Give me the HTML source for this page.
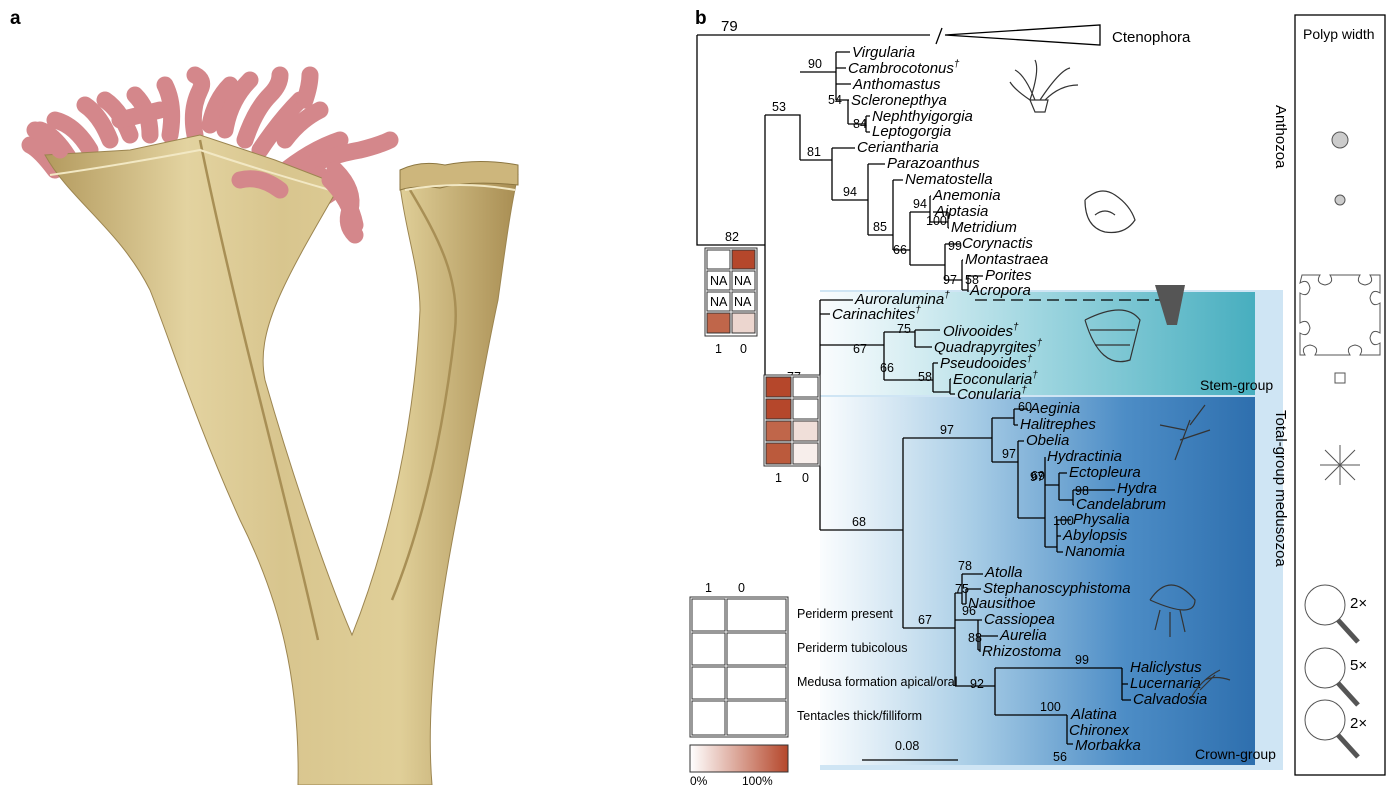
<!DOCTYPE html>
<html><head><meta charset="utf-8">
<style>
body{margin:0;background:#fff;}
svg{display:block;}
text{font-family:"Liberation Sans",sans-serif;}
.t{font-style:italic;font-size:15px;}
.n{font-size:12.5px;}
.l{stroke:#000;stroke-width:1.3;fill:none;}
</style></head><body>
<svg width="1395" height="785" viewBox="0 0 1395 785" xmlns="http://www.w3.org/2000/svg">
<defs>
<linearGradient id="tan" x1="0" x2="1" y1="0" y2="0">
<stop offset="0" stop-color="#b39a5e"/><stop offset=".3" stop-color="#e3d3a0"/><stop offset=".5" stop-color="#d8c58e"/><stop offset=".75" stop-color="#e0cf98"/><stop offset="1" stop-color="#a88d52"/></linearGradient>
<linearGradient id="stem" x1="0" x2="1"><stop offset="0" stop-color="#fff" stop-opacity="0.9"/><stop offset=".5" stop-color="#9fd6e0"/><stop offset="1" stop-color="#47aebf"/></linearGradient>
<linearGradient id="crown" x1="0" x2="1"><stop offset="0" stop-color="#fff" stop-opacity="0.9"/><stop offset=".35" stop-color="#a8cde6"/><stop offset=".7" stop-color="#4d8dc6"/><stop offset="1" stop-color="#2e6fae"/></linearGradient>
<linearGradient id="bar" x1="0" x2="1"><stop offset="0" stop-color="#fff"/><stop offset="1" stop-color="#b5472b"/></linearGradient>
</defs>
<text x="10" y="24" font-weight="bold" font-size="19">a</text>
<text x="695" y="24" font-weight="bold" font-size="19">b</text>

<!-- illustration -->
<g>
<g stroke="#d4878b" stroke-width="17" stroke-linecap="round" fill="none">
<path d="M55,170 Q40,150 30,145"/><path d="M70,160 Q55,135 40,130"/><path d="M90,150 Q75,125 55,120"/>
<path d="M110,140 Q100,115 85,105"/><path d="M130,135 Q120,110 105,100"/><path d="M150,135 Q150,110 135,95"/>
<path d="M170,135 Q175,105 165,85"/><path d="M195,135 Q190,110 200,90 Q205,80 195,75"/><path d="M210,125 Q215,100 230,85"/>
<path d="M225,130 Q230,100 250,80"/><path d="M245,140 Q255,110 270,95 Q280,85 280,75"/><path d="M260,150 Q280,120 300,100"/>
<path d="M285,140 Q300,120 320,110"/><path d="M280,175 Q310,150 340,140"/><path d="M300,170 Q330,155 360,150 Q380,145 390,140"/>
<path d="M270,200 Q300,190 320,175"/><path d="M285,215 Q315,205 335,190"/><path d="M335,170 Q355,190 350,210 Q345,225 355,235"/>
<path d="M305,100 Q310,85 310,75"/><path d="M120,120 Q140,115 160,110"/>
</g>
<path d="M45,155 C70,200 120,230 150,290 C170,340 195,420 240,520 C280,600 300,680 298,785 L432,785 C425,700 440,600 460,500 C475,420 485,360 498,300 C505,250 510,210 518,175 L400,185 C405,230 420,270 420,310 C415,420 390,540 352,635 C320,560 285,450 265,380 C255,330 285,280 340,185 L275,160 L200,135 L130,150 Z" fill="url(#tan)" stroke="#9c8550" stroke-width="1"/>
<path d="M200,140 C212,200 235,300 255,380 C280,480 300,560 318,640" fill="none" stroke="#a88f55" stroke-width="2.5"/>
<path d="M410,190 C440,240 460,280 455,330 C445,420 425,520 392,600" fill="none" stroke="#a88f55" stroke-width="2.5"/>
<path d="M50,175 Q120,165 200,150 Q260,170 330,190" fill="none" stroke="#f2e8c4" stroke-width="2"/>
<path d="M400,170 Q420,160 445,165 Q480,158 518,165 L518,185 Q470,180 440,188 Q415,185 400,190 Z" fill="#cdb67c" stroke="#8c7640"/>
<path d="M405,190 Q460,180 515,190" fill="none" stroke="#f2e8c4" stroke-width="2"/>
<g stroke="#d4878b" stroke-width="17" stroke-linecap="round" fill="none">
<path d="M240,180 Q260,175 280,190"/><path d="M330,180 Q350,200 355,225"/><path d="M60,150 Q45,135 35,130"/>
</g>
</g>

<!-- backgrounds -->
<rect x="820" y="290" width="463" height="480" fill="#cfe5f4"/>
<rect x="820" y="292" width="435" height="103" fill="url(#stem)"/>
<rect x="820" y="397" width="435" height="368" fill="url(#crown)"/>

<!-- tree lines -->
<g class="l">
<path d="M697,35 V245 H765 M697,35 H930"/>
<path d="M936,44 L942,28 M945,35 L1100,25 L1100,45 Z"/>
<path d="M765,115 V385 H820 M765,115 H800 V160"/>
<path d="M800,72 H836 M836,52 V100 M836,52 H850 M836,68 H846 M836,84 H851 M836,100 H848 V124 M848,100 H849 M848,124 H866 M866,116 V132 M866,116 H870 M866,132 H870"/>
<path d="M800,160 H832 M832,148 V200 M832,148 H855 M832,200 H868 M868,164 V235 M868,164 H885 M868,235 H893 M893,180 V250 M893,180 H903 M893,250 H910 M910,212 V265 M910,212 H930 M930,196 V222 M930,196 H931 M930,222 H948 M948,212 V228 M948,212 H933 M948,228 H949 M910,265 H945 M945,244 V280 M945,244 H960 M945,280 H962 M962,260 V290 M962,260 H963 M962,290 H968 M968,276 V292 M968,276 H983"/>
<path d="M820,300 V530 M820,300 H853 M820,314 H830 M820,345 H884 M884,332 V380 M884,332 H915 M915,330 V347 M915,330 H940 M915,347 H932 M884,380 H933 M933,363 V392 M933,363 H938 M933,392 H950 M950,379 V394 M950,379 H951 M950,394 H955"/>
<path d="M975,300 H1160" stroke-dasharray="12,6"/>
<path d="M820,530 H903 M903,438 V628 M903,438 H992 M992,418 V462 M992,418 H1014 M1014,409 V425 M1014,409 H1028 M1014,425 H1018 M992,462 H1018 M1018,441 V518 M1018,441 H1024 M1018,518 H1045 M1045,457 V547 M1045,457 H1045 M1045,485 H1059 M1059,473 V500 M1059,473 H1067 M1059,500 H1073 M1073,490 V505 M1073,490 H1115 M1073,505 H1074 M1045,547 H1057 M1057,520 V552 M1057,520 H1071 M1057,536 H1061 M1057,552 H1063"/>
<path d="M903,628 H955 M955,593 V686 M955,593 H962 M962,574 V604 M962,574 H983 M962,604 H966 M966,589 V604 M966,589 H981 M966,604 H966 M955,620 H978 M978,620 V650 M978,620 H982 M978,650 H980 M980,636 V652 M980,636 H998 M980,652 H980 M955,686 H995 M995,668 V715 M995,668 H1122 M1122,668 V700 M1122,684 H1128 M1122,700 H1131 M995,715 H1067 M1067,715 V744 M1067,730 H1067 M1067,744 H1073"/>
<path d="M862,760 H958"/>
</g>

<!-- support values -->
<g class="n">
<text x="721" y="31" font-size="15">79</text><text x="725" y="241">82</text><text x="772" y="111">53</text>
<text x="808" y="68">90</text><text x="828" y="104">54</text><text x="853" y="128">84</text>
<text x="807" y="156">81</text><text x="843" y="196">94</text><text x="873" y="231">85</text>
<text x="893" y="254">66</text><text x="913" y="208">94</text><text x="926" y="225">100</text>
<text x="948" y="250">99</text><text x="943" y="284">97</text><text x="965" y="284">58</text>
<text x="787" y="381">77</text><text x="853" y="353">67</text><text x="897" y="333">75</text>
<text x="880" y="372">66</text><text x="918" y="381">58</text>
<text x="852" y="526">68</text><text x="940" y="434">97</text><text x="1018" y="411">60</text>
<text x="1002" y="458">97</text><text x="1030" y="481">97</text><text x="1031" y="480">69</text>
<text x="1075" y="495">98</text><text x="1053" y="525">100</text>
<text x="918" y="624">67</text><text x="958" y="570">78</text><text x="955" y="593">75</text>
<text x="962" y="615">96</text><text x="968" y="642">88</text><text x="1075" y="664">99</text>
<text x="970" y="688">92</text><text x="1040" y="711">100</text><text x="1053" y="761">56</text>
<text x="895" y="750">0.08</text>
</g>

<!-- taxa -->
<g class="t">
<text x="852" y="57">Virgularia</text><text x="848" y="73">Cambrocotonus<tspan font-size="10" dy="-6">†</tspan></text>
<text x="853" y="89">Anthomastus</text><text x="851" y="105">Scleronepthya</text>
<text x="872" y="121">Nephthyigorgia</text><text x="872" y="136">Leptogorgia</text>
<text x="857" y="152">Ceriantharia</text><text x="887" y="168">Parazoanthus</text>
<text x="905" y="184">Nematostella</text><text x="933" y="200">Anemonia</text>
<text x="935" y="216">Aiptasia</text><text x="951" y="232">Metridium</text>
<text x="962" y="248">Corynactis</text><text x="965" y="264">Montastraea</text>
<text x="985" y="280">Porites</text><text x="970" y="295">Acropora</text>
<text x="855" y="304">Auroralumina<tspan font-size="10" dy="-6">†</tspan></text>
<text x="832" y="319">Carinachites<tspan font-size="10" dy="-6">†</tspan></text>
<text x="943" y="336">Olivooides<tspan font-size="10" dy="-6">†</tspan></text>
<text x="934" y="352">Quadrapyrgites<tspan font-size="10" dy="-6">†</tspan></text>
<text x="940" y="368">Pseudooides<tspan font-size="10" dy="-6">†</tspan></text>
<text x="953" y="384">Eoconularia<tspan font-size="10" dy="-6">†</tspan></text>
<text x="957" y="399">Conularia<tspan font-size="10" dy="-6">†</tspan></text>
<text x="1030" y="413">Aeginia</text><text x="1020" y="429">Halitrephes</text>
<text x="1026" y="445">Obelia</text><text x="1047" y="461">Hydractinia</text>
<text x="1069" y="477">Ectopleura</text><text x="1117" y="493">Hydra</text>
<text x="1076" y="509">Candelabrum</text><text x="1073" y="524">Physalia</text>
<text x="1063" y="540">Abylopsis</text><text x="1065" y="556">Nanomia</text>
<text x="985" y="577">Atolla</text><text x="983" y="593">Stephanoscyphistoma</text>
<text x="968" y="608">Nausithoe</text><text x="984" y="624">Cassiopea</text>
<text x="1000" y="640">Aurelia</text><text x="982" y="656">Rhizostoma</text>
<text x="1130" y="672">Haliclystus</text><text x="1130" y="688">Lucernaria</text>
<text x="1133" y="704">Calvadosia</text><text x="1071" y="719">Alatina</text>
<text x="1069" y="735">Chironex</text><text x="1075" y="750">Morbakka</text>
</g>
<text x="1112" y="42" font-size="15">Ctenophora</text>
<text x="1200" y="390" font-size="14">Stem-group</text>
<text x="1195" y="759" font-size="14">Crown-group</text>
<text transform="translate(1276,105) rotate(90)" font-size="15">Anthozoa</text>
<text transform="translate(1276,410) rotate(90)" font-size="15">Total-group medusozoa</text>

<!-- legend boxes 1 -->
<g stroke="#333" stroke-width="1" font-size="12">
<rect x="705" y="248" width="52" height="88" fill="#fff"/>
<rect x="707" y="250" width="23" height="19" fill="#fff"/><rect x="732" y="250" width="23" height="19" fill="#b5472b"/>
<rect x="707" y="271" width="23" height="19" fill="#fff"/><rect x="732" y="271" width="23" height="19" fill="#fff"/>
<rect x="707" y="292" width="23" height="19" fill="#fff"/><rect x="732" y="292" width="23" height="19" fill="#fff"/>
<rect x="707" y="313" width="23" height="20" fill="#c0664a"/><rect x="732" y="313" width="23" height="20" fill="#ecd6cf"/>
<rect x="764" y="375" width="56" height="91" fill="#fff"/>
<rect x="766" y="377" width="25" height="20" fill="#b5472b"/><rect x="793" y="377" width="25" height="20" fill="#fff"/>
<rect x="766" y="399" width="25" height="20" fill="#b5472b"/><rect x="793" y="399" width="25" height="20" fill="#fff"/>
<rect x="766" y="421" width="25" height="20" fill="#c0664a"/><rect x="793" y="421" width="25" height="20" fill="#f0dfd9"/>
<rect x="766" y="443" width="25" height="21" fill="#bb5a3c"/><rect x="793" y="443" width="25" height="21" fill="#f7eeeb"/>
</g>
<g font-size="12.5">
<text x="710" y="285">NA</text><text x="734" y="285">NA</text><text x="710" y="306">NA</text><text x="734" y="306">NA</text>
<text x="715" y="353">1</text><text x="740" y="353">0</text><text x="775" y="482">1</text><text x="802" y="482">0</text>
</g>
<!-- bottom legend -->
<g stroke="#333" fill="#fff">
<rect x="690" y="597" width="98" height="140"/>
<rect x="692" y="599" width="33" height="32"/><rect x="727" y="599" width="59" height="32"/>
<rect x="692" y="633" width="33" height="32"/><rect x="727" y="633" width="59" height="32"/>
<rect x="692" y="667" width="33" height="32"/><rect x="727" y="667" width="59" height="32"/>
<rect x="692" y="701" width="33" height="34"/><rect x="727" y="701" width="59" height="34"/>
<rect x="690" y="745" width="98" height="27" fill="url(#bar)"/>
</g>
<g font-size="12.5">
<text x="705" y="592">1</text><text x="738" y="592">0</text>
<text x="797" y="618">Periderm present</text><text x="797" y="652">Periderm tubicolous</text>
<text x="797" y="686">Medusa formation apical/oral</text><text x="797" y="720">Tentacles thick/filliform</text>
<text x="690" y="785" font-size="12">0%</text><text x="742" y="785" font-size="12">100%</text>
</g>

<!-- silhouettes -->
<g stroke="#333" fill="none" stroke-width="1.2">
<path d="M1030,100 Q1040,70 1035,60 M1035,100 Q1025,75 1015,70 M1040,100 Q1060,70 1070,68 M1045,100 Q1060,85 1078,85 M1030,100 Q1015,90 1010,82 M1035,112 L1045,112 L1048,100 L1030,100 Z"/>
<path d="M1085,200 q15,-15 30,-5 q15,10 20,25 q-10,15 -30,12 q-20,-5 -20,-32 M1095,215 q10,-8 20,0"/>
<path d="M1085,320 q40,-20 55,0 l-10,40 q-30,10 -45,-40 M1090,330 h45 M1095,345 h35"/>
<path d="M1175,460 l15,-40 M1180,440 l30,-10 M1185,430 l-25,-5 M1190,425 l15,-20"/>
<path d="M1150,600 q20,-30 45,0 q0,20 -45,0 M1160,610 l-5,20 M1170,612 l0,25 M1180,610 l5,22"/>
<path d="M1190,700 q10,-20 30,-30 M1200,690 l15,-15 M1205,680 q10,-5 25,0"/>
</g>
<path d="M1155,285 l30,0 l-8,40 l-10,0 z" fill="#555"/>

<!-- polyp width panel -->
<rect x="1295" y="15" width="90" height="760" fill="none" stroke="#000" stroke-width="1.3"/>
<text x="1303" y="39" font-size="14">Polyp width</text>
<g stroke="#555" fill="none">
<circle cx="1340" cy="140" r="8" fill="#ccc"/><circle cx="1340" cy="200" r="5" fill="#ccc"/>
<path d="M1302,275 h18 q-5,8 5,10 q10,-2 5,-10 h30 q-5,8 5,10 q10,-2 5,-10 h10 v18 q-8,-5 -10,5 q2,10 10,5 v30 q-8,-5 -10,5 q2,10 10,5 v12 h-20 q5,-8 -5,-10 q-10,2 -5,10 h-35 q5,-8 -5,-10 q-10,2 -5,10 h-5 v-22 q8,5 10,-5 q-2,-10 -10,-5 v-30 q8,5 10,-5 q-2,-10 -10,-5 z"/>
<rect x="1335" y="373" width="10" height="10"/>
<path d="M1320,465 l40,0 M1325,450 l30,30 M1325,480 l30,-30 M1340,445 l0,40"/>
<circle cx="1325" cy="605" r="20"/><path d="M1338,620 l20,22" stroke-width="5"/>
<circle cx="1325" cy="668" r="20"/><path d="M1338,683 l20,22" stroke-width="5"/>
<circle cx="1325" cy="720" r="20"/><path d="M1338,735 l20,22" stroke-width="5"/>
</g>
<g font-size="15"><text x="1350" y="608">2×</text><text x="1350" y="670">5×</text><text x="1350" y="728">2×</text></g>
</svg>
</body></html>
